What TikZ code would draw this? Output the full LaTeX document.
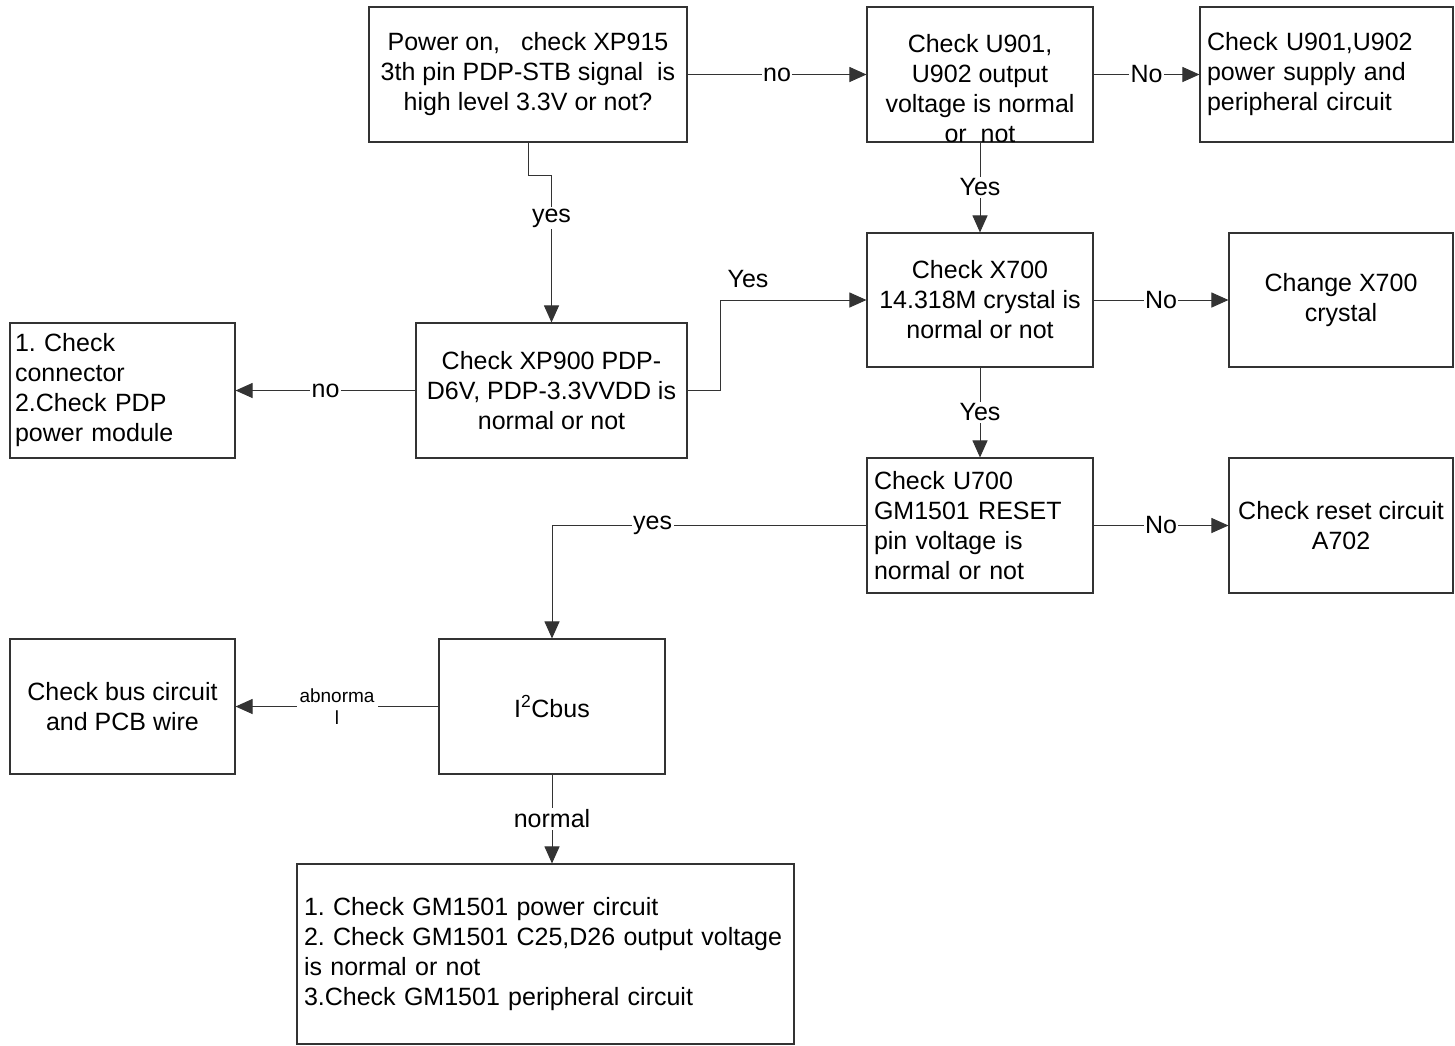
\documentclass[tikz,border=0pt]{standalone}
\usepackage{fontspec}
\setmainfont{Liberation Sans}
\usetikzlibrary{arrows.meta}
\frenchspacing
\begin{document}
\begin{tikzpicture}[x=1pt,y=-1pt,
  every node/.style={font=\fontsize{25pt}{30pt}\selectfont\frenchspacing, text=black},
  box/.style={draw=black!80, line width=1.1pt, rectangle, inner sep=0pt, align=center},
  lbox/.style={draw=black!80, line width=1.1pt, rectangle, inner xsep=7pt, inner ysep=0pt, align=left},
  conn/.style={draw=black!80, line width=1pt},
  arr/.style={conn, -{Triangle[length=17pt,width=15pt]}},
  lbl/.style={fill=white, inner sep=1.5pt}]
\useasboundingbox (0,0) rectangle (1455,1045);
% boxes
\node[box, minimum width=318pt, minimum height=135pt] (A) at (528,74.5)
  {Power on,\ \ \ check XP915\\3th pin PDP-STB signal\ \ is\\high level 3.3V or not?};
\node[box, minimum width=226pt, minimum height=135pt] (B) at (980,74.5) {};
\node[align=center, inner sep=0pt] (Bt) at (980,89) {Check U901,\\U902 output\\voltage is normal\\or\ \ not};
\node[lbox, text width=239pt, minimum height=135pt] (C) at (1326.5,74.5)
  {Check U901,U902\\power supply and\\peripheral circuit};
\node[box, minimum width=271pt, minimum height=135pt] (D) at (551.5,390.5)
  {Check XP900 PDP-\\D6V, PDP-3.3VVDD is\\normal or not};
\node[lbox, inner xsep=5pt, text width=215pt, minimum height=135pt] (E) at (122.5,390.5)
  {1. Check\\connector\\2.Check PDP\\power module};
\node[box, minimum width=226pt, minimum height=134pt] (F) at (980,300)
  {Check X700\\14.318M crystal is\\normal or not};
\node[box, minimum width=224pt, minimum height=134pt] (G) at (1341,300)
  {Change X700\\crystal};
\node[lbox, text width=212pt, minimum height=135pt] (H) at (980,525.5)
  {Check U700\\GM1501 RESET\\pin voltage is\\normal or not};
\node[box, minimum width=224pt, minimum height=135pt] (I) at (1341,525.5)
  {Check reset circuit\\A702};
\node[box, minimum width=226pt, minimum height=135pt] (J) at (552,706.5)
  {I\textsuperscript{2}Cbus};
\node[box, minimum width=225pt, minimum height=135pt] (K) at (122.5,706.5)
  {Check bus circuit\\and PCB wire};
\node[lbox, text width=483pt, minimum height=180pt] (L) at (545.5,954)
  {1. Check GM1501 power circuit\\2. Check GM1501 C25,D26 output voltage\\is normal or not\\3.Check GM1501 peripheral circuit};
% connectors
\draw[arr] (A.east) -- node[lbl] {no} (B.west);
\draw[arr] (B.east) -- node[lbl] {No} (C.west);
\draw[arr] (A.south) -- ++(0,33) -| node[lbl, pos=0.645] {yes} (D.north);
\draw[arr] (D.east) -- ++(33,0) |- (F.west);
\node (yesDF) at (748,279) {Yes};
\draw[arr] (D.west) -- node[lbl] {no} (E.east);
\draw[arr] (B.south) -- node[lbl] {Yes} (F.north);
\draw[arr] (F.east) -- node[lbl] {No} (G.west);
\draw[arr] (F.south) -- node[lbl] {Yes} (H.north);
\draw[arr] (H.east) -- node[lbl] {No} (I.west);
\draw[arr] (H.west) -| node[lbl, pos=0.34] {yes} (J.north);
\draw[arr] (J.west) -- node[lbl, align=center, inner xsep=3pt, inner ysep=0pt, font=\fontsize{19pt}{22pt}\selectfont] {abnorma\\l} (K.east);
\draw[arr] (J.south) -- node[lbl] {normal} (J.south |- L.north);
\end{tikzpicture}
\end{document}
